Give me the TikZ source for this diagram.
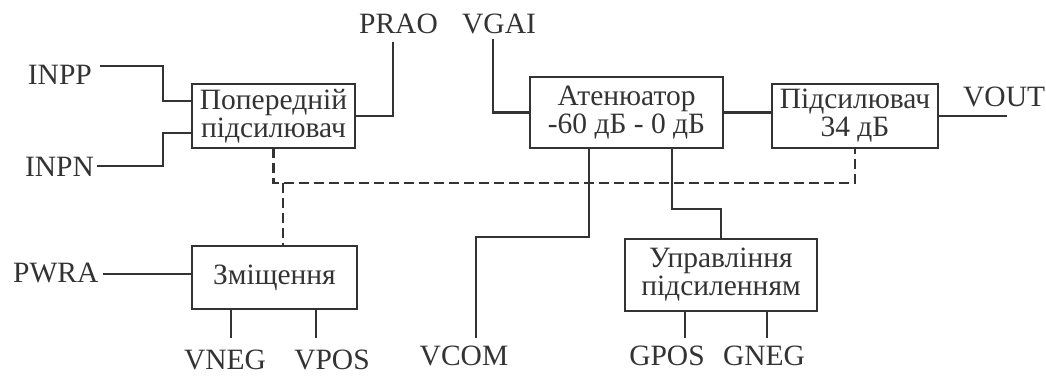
\documentclass[tikz,border=0pt]{standalone}
\usepackage{fontspec}
\setmainfont{Liberation Serif}
\usetikzlibrary{positioning}

\begin{document}
\begin{tikzpicture}[x=0.5pt, y=-0.5pt, line width=1.15pt, black!80,
    every node/.style={font=\fontsize{14.75}{14}\selectfont},
    blk/.style={draw, align=center, inner sep=0pt, outer sep=0pt},
    sig/.style={inner sep=0pt, anchor=base},
    ctrl/.style={dash pattern=on 5pt off 2.5pt}]
  \useasboundingbox (0,0) rectangle (1046,378);
  % blocks
  \node[blk, minimum width=81.5pt, minimum height=32pt] (pre) at (273.5,116) {Попередній\\підсилювач};
  \node[blk, minimum width=96.5pt, minimum height=35.5pt] (att) at (626.5,112.5) {Атенюатор\\-60 дБ - 0 дБ};
  \node[blk, minimum width=83pt, minimum height=32pt] (amp) at (855,116) {Підсилювач\\34 дБ};
  \node[blk, minimum width=82.5pt, minimum height=31.5pt] (bias) at (274.5,277.5) {Зміщення};
  \node[blk, minimum width=96pt, minimum height=36pt] (gain) at (721,275) {Управління\\підсиленням};
  % pin labels
  \node[sig, anchor=base east] (inpp) at (93,85) {INPP};
  \node[sig, anchor=base east] (inpn) at (95,177) {INPN};
  \node[sig, anchor=base west] (prao) at (358,34) {PRAO};
  \node[sig, anchor=base west] (vgai) at (461,34) {VGAI};
  \node[sig, anchor=base west] (vout) at (962,107) {VOUT};
  \node[sig, anchor=base west] (pwra) at (12,283) {PWRA};
  \node[sig] (vneg) at (225,370) {VNEG};
  \node[sig] (vpos) at (332,370) {VPOS};
  \node[sig] (vcom) at (464,366) {VCOM};
  \node[sig] (gpos) at (667,366) {GPOS};
  \node[sig] (gneg) at (764,366) {GNEG};
  % line ends
  \coordinate (inpp-p) at (100,66);
  \coordinate (inpn-p) at (97,166);
  \coordinate (prao-p) at (393,42);
  \coordinate (vgai-p) at (493,39);
  \coordinate (vout-p) at (1007,116);
  \coordinate (pwra-p) at (103,274);
  \coordinate (vneg-p) at (231,338);
  \coordinate (vpos-p) at (316,338);
  \coordinate (vcom-p) at (476,338);
  \coordinate (gpos-p) at (685,338);
  \coordinate (gneg-p) at (767,338);
  \coordinate (tap) at (283,183);
  \coordinate[below=17.5pt of amp.south] (bus);
  % wires
  \draw (inpp-p) -| ([xshift=-14.5pt,yshift=7.5pt]pre.west) -- ([yshift=7.5pt]pre.west);
  \draw (inpn-p) -| ([xshift=-14.5pt,yshift=-8.5pt]pre.west) -- ([yshift=-8.5pt]pre.west);
  \draw (pre.east) -| (prao-p);
  \draw (vgai-p) |- (att.west);
  \draw (att.east) -- (att.east -| amp.west);
  \draw (amp.east) -- (vout-p);
  \draw[ctrl] (pre.south) |- (bus) -- (amp.south);
  \draw[ctrl] (tap) -- (tap |- bias.north);
  \draw ([xshift=-18.75pt]att.south) -- ++(0,89) -| (vcom-p);
  \draw ([xshift=22.75pt]att.south) -- ++(0,61) -| (gain.north);
  \draw (pwra-p) -- (pwra-p -| bias.west);
  \foreach \p in {vneg-p, vpos-p} \draw (\p |- bias.south) -- (\p);
  \foreach \p in {gpos-p, gneg-p} \draw (\p |- gain.south) -- (\p);
\end{tikzpicture}
\end{document}
